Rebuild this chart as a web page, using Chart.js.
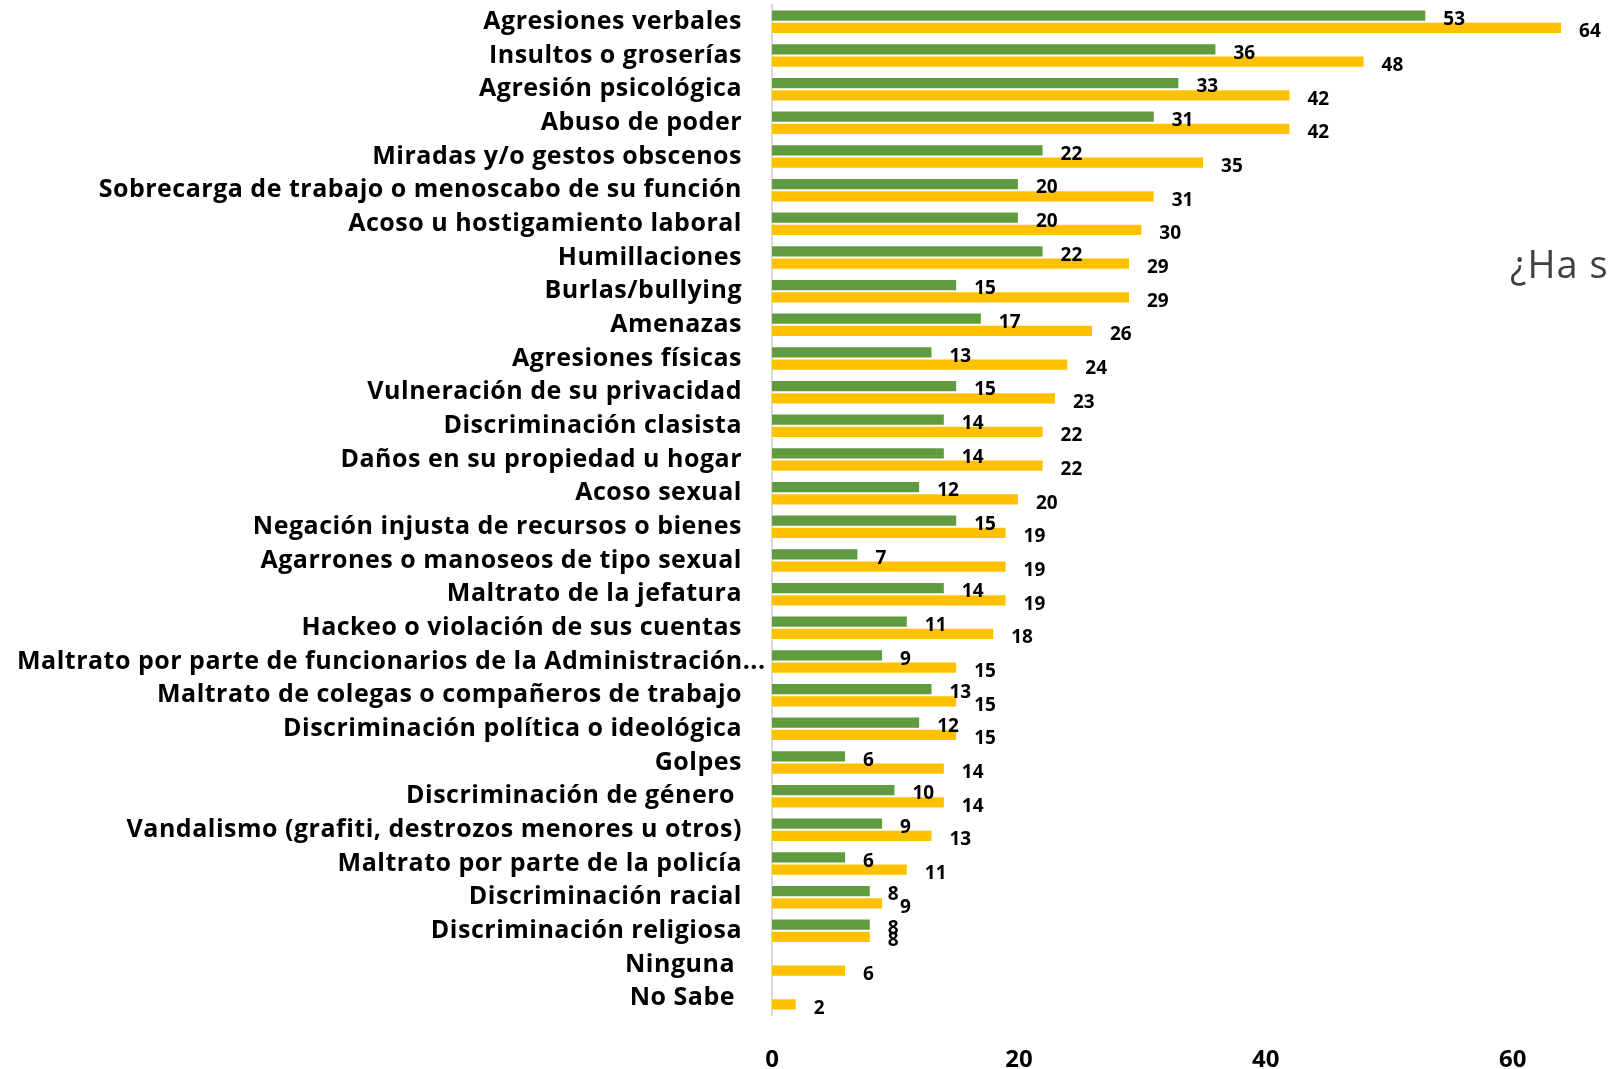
<!DOCTYPE html>
<html>
<head>
<meta charset="utf-8">
<script src="https://cdn.jsdelivr.net/npm/chart.js@4/dist/chart.umd.min.js"></script>
<style>
  html, body { margin: 0; padding: 0; background: #fff; }
  #wrap { width: 1609px; height: 1069px; }
</style>
</head>
<body>
<div id="wrap"><canvas id="chart" width="1609" height="1069"></canvas></div>
<script>
const categories = [
  "Agresiones verbales",
  "Insultos o groserías",
  "Agresión psicológica",
  "Abuso de poder",
  "Miradas y/o gestos obscenos",
  "Sobrecarga de trabajo o menoscabo de su función",
  "Acoso u hostigamiento laboral",
  "Humillaciones",
  "Burlas/bullying",
  "Amenazas",
  "Agresiones físicas",
  "Vulneración de su privacidad",
  "Discriminación clasista",
  "Daños en su propiedad u hogar",
  "Acoso sexual",
  "Negación injusta de recursos o bienes",
  "Agarrones o manoseos de tipo sexual",
  "Maltrato de la jefatura",
  "Hackeo o violación de sus cuentas",
  "Maltrato por parte de funcionarios de la Administración...",
  "Maltrato de colegas o compañeros de trabajo",
  "Discriminación política o ideológica",
  "Golpes",
  "Discriminación de género ",
  "Vandalismo (grafiti, destrozos menores u otros)",
  "Maltrato por parte de la policía",
  "Discriminación racial",
  "Discriminación religiosa",
  "Ninguna ",
  "No Sabe ",
];

const greenValues = [53, 36, 33, 31, 22, 20, 20, 22, 15, 17, 13, 15, 14, 14, 12, 15, 7, 14, 11, 9, 13, 12, 6, 10, 9, 6, 8, 8, null, null];
const yellowValues = [64, 48, 42, 42, 35, 31, 30, 29, 29, 26, 24, 23, 22, 22, 20, 19, 19, 19, 18, 15, 15, 15, 14, 14, 13, 11, 9, 8, 6, 2];

const sideTitle = "¿Ha sufrido alguna de estas situaciones?";

const FONT = "'Open Sans'";
const GREEN = "#619B3F";
const YELLOW = "#FFC000";

// y labels drawn by hand so the over-long one can stay inside the canvas
const yLabels = {
  id: "yLabels",
  afterDraw(chart) {
    const { ctx, chartArea } = chart;
    const yScale = chart.scales.y;
    const rightEdge = chartArea.left - 30;
    ctx.save();
    ctx.font = `bold 25px ${FONT}`;
    ctx.letterSpacing = "0.5px";
    ctx.fillStyle = "#000";
    ctx.textBaseline = "middle";
    ctx.textAlign = "left";
    categories.forEach((label, i) => {
      const w = ctx.measureText(label).width;
      const x = Math.max(rightEdge - w, 17);
      ctx.fillText(label, x, yScale.getPixelForValue(i));
    });
    ctx.restore();
  },
};

const valueLabels = {
  id: "valueLabels",
  afterDatasetsDraw(chart) {
    const { ctx } = chart;
    ctx.save();
    ctx.font = `bold 19px ${FONT}`;
    ctx.fillStyle = "#000";
    ctx.textBaseline = "middle";
    ctx.textAlign = "left";
    chart.data.datasets.forEach((ds, di) => {
      const meta = chart.getDatasetMeta(di);
      meta.data.forEach((bar, i) => {
        const v = ds.data[i];
        if (v === null || v === undefined) return;
        ctx.fillText(String(v), bar.x + 17, bar.y + 4);
      });
    });
    ctx.restore();
  },
};

const sideText = {
  id: "sideText",
  afterDraw(chart) {
    const { ctx, chartArea } = chart;
    ctx.save();
    ctx.font = `38px ${FONT}`;
    ctx.letterSpacing = "1px";
    ctx.fillStyle = "#404040";
    ctx.textBaseline = "middle";
    ctx.textAlign = "left";
    ctx.fillText(sideTitle, chartArea.right - 99, chart.scales.y.getPixelForValue(7) + 10);
    ctx.restore();
  },
};

new Chart(document.getElementById("chart"), {
  type: "bar",
  data: {
    labels: categories,
    datasets: [
      {
        data: greenValues,
        backgroundColor: GREEN,
        borderColor: "rgba(255,255,255,0.7)",
        borderWidth: 1,
        categoryPercentage: 0.73,
        barPercentage: 1,
      },
      {
        data: yellowValues,
        backgroundColor: YELLOW,
        borderColor: "rgba(255,255,255,0.7)",
        borderWidth: 1,
        categoryPercentage: 0.73,
        barPercentage: 1,
      },
    ],
  },
  options: {
    indexAxis: "y",
    responsive: false,
    animation: false,
    layout: {
      padding: { top: 5, left: 0, right: 0, bottom: 0 },
    },
    scales: {
      x: {
        min: 0,
        max: 67.8,
        grid: { display: false, drawTicks: false },
        border: { display: false },
        ticks: {
          stepSize: 20,
          includeBounds: false,
          padding: 33,
          color: "#000",
          font: { family: "Open Sans", size: 24, weight: "bold", lineHeight: 1 },
        },
        afterFit(scale) {
          scale.height = 54;
        },
      },
      y: {
        grid: { display: false, drawTicks: false },
        border: { display: true, color: "#D9D9D9", width: 2 },
        ticks: { display: false },
        afterFit(scale) {
          scale.width = 772;
        },
      },
    },
    plugins: {
      legend: { display: false },
      tooltip: { enabled: false },
    },
  },
  plugins: [yLabels, valueLabels, sideText],
});
</script>
</body>
</html>
